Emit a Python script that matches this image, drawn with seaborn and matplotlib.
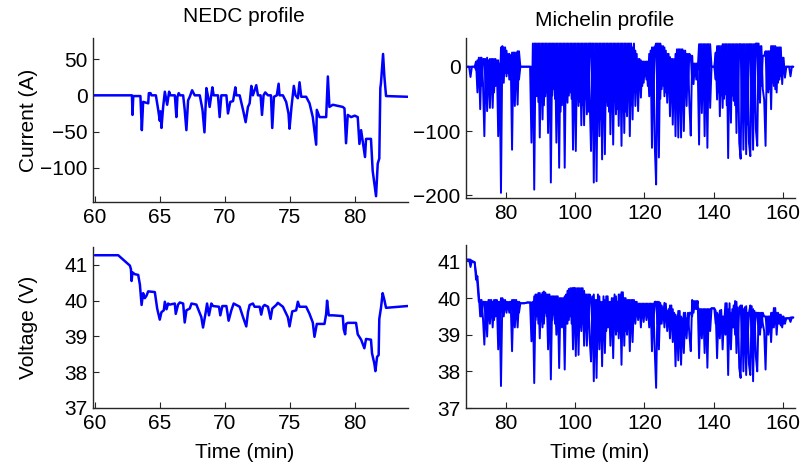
import numpy as np
import pandas as pd
import matplotlib
matplotlib.use("Agg")
import matplotlib.pyplot as plt
import seaborn as sns

sns.set_style("ticks")
plt.rcParams["font.family"] = ["Liberation Sans", "DejaVu Sans"]
plt.rcParams["font.size"] = 15
plt.rcParams["text.color"] = "black"

# =================== NEDC profile (time in min) ===================
nedc_t_cur = [59.8, 62.85, 62.89, 62.95, 63.5, 63.61, 63.71, 64.1, 64.15, 64.28, 64.35, 64.69,
              64.87, 64.99, 65.05, 65.12, 65.25, 65.38, 65.56, 65.71, 65.81, 66.15, 66.27, 66.35,
              66.45, 66.55, 66.79, 66.91, 67.04, 67.17, 67.3, 67.48, 67.68, 68.07, 68.28, 68.43,
              68.58, 68.71, 68.83, 69.04, 69.14, 69.47, 69.6, 69.73, 70.12, 70.24, 70.42, 70.63,
              70.81, 70.88, 71.14, 71.4, 71.6, 71.78, 71.91, 72.04, 72.16, 72.42, 72.55, 72.75,
              72.86, 72.98, 73.11, 73.32, 73.55, 73.65, 73.78, 74.0, 74.14, 74.21, 74.47, 74.72,
              74.9, 74.98, 75.13, 75.31, 75.44, 75.62, 75.75, 75.88, 76.26, 76.52, 76.77, 77.03,
              77.08, 77.29, 77.8, 77.93, 78.05, 78.31, 79.08, 79.21, 79.33, 79.46, 79.72, 80.0,
              80.23, 80.36, 80.49, 80.79, 80.87, 81.25, 81.38, 81.64, 81.77, 81.89, 81.97, 82.02,
              82.18, 82.28, 82.41, 84.07]
nedc_cur = [0, 0, -27, -1, -1, -48, -9, -11, 3, 3, 0, 0,
            -20, -35, -22, -45, -16, 5, -13, 5, 0, 0, -30, -2,
            3, 0, 0, -20, -48, -7, -2, 7, 0, 0, -20, -51,
            10, -2, -16, 11, 0, 0, -30, 0, 0, -25, -9, -8,
            11, 0, 0, -20, -37, -16, -11, 13, 0, 14, 0, 0,
            -27, 0, 4, 0, 0, -45, -2, 0, 16, 0, 0, -9,
            -25, -46, -16, 13, 0, -4, 18, -2, -2, -11, -30, -68,
            -20, -30, -30, 26, -16, -13, -16, -18, -66, -27, -30, -28,
            -30, -67, -48, -85, -60, -60, -104, -139, -94, -87, 10, 17,
            57, 26, -1, -2]

nedc_t_volt = [60.0, 61.79, 62.69, 62.77, 62.82, 62.89, 63.07, 63.33, 63.46, 63.59, 63.71, 63.84,
               63.97, 64.10, 64.61, 64.79, 64.99, 65.12, 65.30, 65.38, 65.51, 65.63, 65.76, 66.15,
               66.22, 66.40, 66.53, 66.79, 66.91, 67.04, 67.30, 67.43, 67.81, 68.19, 68.32, 68.53,
               68.63, 68.78, 68.96, 69.09, 69.55, 69.65, 69.81, 70.12, 70.29, 70.50, 70.68, 71.14,
               71.40, 71.65, 71.78, 71.91, 72.16, 72.29, 72.68, 72.80, 72.93, 73.06, 73.32, 73.52,
               73.65, 73.96, 74.08, 74.47, 74.85, 74.98, 75.19, 75.49, 75.62, 75.75, 76.26, 76.52,
               76.77, 76.90, 77.08, 77.29, 77.67, 77.80, 77.87, 78.00, 78.31, 79.08, 79.15, 79.26,
               79.33, 79.46, 80.10, 80.23, 80.49, 80.74, 80.87, 81.25, 81.33, 81.51, 81.59, 81.72,
               81.84, 81.89, 82.02, 82.15, 82.28, 82.41, 84.07]
nedc_volt = [41.27, 41.27, 40.98, 40.88, 40.55, 40.79, 40.74, 40.72, 40.45, 39.88, 40.21, 40.07,
             40.14, 40.26, 40.24, 39.78, 39.47, 39.68, 39.73, 39.97, 39.76, 39.92, 39.89, 39.92,
             39.63, 39.89, 39.95, 39.92, 39.39, 39.73, 39.78, 39.92, 39.89, 39.54, 39.25, 39.68,
             39.92, 39.59, 39.92, 39.85, 39.83, 39.59, 39.85, 39.85, 39.44, 39.73, 39.92, 39.83,
             39.54, 39.28, 39.68, 39.88, 39.92, 39.83, 39.83, 39.61, 39.83, 39.88, 39.83, 39.49,
             39.78, 39.88, 39.94, 39.83, 39.54, 39.28, 39.70, 39.73, 39.97, 39.83, 39.83, 39.63,
             39.39, 38.99, 39.35, 39.35, 39.35, 39.63, 40.0, 39.59, 39.59, 39.57, 39.20, 39.06,
             39.35, 39.38, 39.38, 39.06, 38.91, 38.67, 38.93, 38.91, 38.53, 38.24, 38.03, 38.43,
             38.48, 39.49, 39.80, 40.21, 40.02, 39.80, 39.85]

# =================== Michelin profile (sampled every 0.4 min from 68.6 min) ===================
# two interleaved phases of the fast-switching signal (a: read spikes, b: opposite phase)
mich_t0 = 68.6
mich_step = 0.4
mich_cur_a = [0, 0, 0, -16, 0, 0, 0, 8, -40, 14,
              -66, 14, -25, -108, 12, -69, 10, -64, 12, -64,
              12, -30, 10, -108, 5, -196, 32, -25, 30, -15,
              20, -20, 18, -129, 22, -61, 22, -59, 24, 0,
              0, 0, 0, 0, 0, 0, 0, -118, 36, -191,
              36, -46, 36, -110, 36, -82, 36, -46, 36, -103,
              36, -180, 36, -35, 36, -118, 36, -157, 36, -60,
              36, -157, 36, -56, 36, -40, 36, -129, 36, -131,
              36, -61, 36, -91, 36, -91, 36, -74, 36, -46,
              -131, 36, -180, 36, -178, 36, -108, 36, -144, 36,
              -136, 36, -61, 36, -105, 36, -121, 36, -74, 36,
              -92, 36, -123, 36, -103, 36, -77, 36, -108, 36,
              -82, 36, -61, 20, -69, 12, -48, 8, -25, 8,
              -20, 8, -46, 25, -126, 30, -121, -183, 36, -141,
              36, -35, 32, -46, 25, -56, 20, -77, 12, -90,
              12, -108, 27, -110, 27, -110, 27, -100, 25, -61,
              20, -58, -107, 17, -27, 5, -20, 5, -121, 35,
              -72, 35, -108, 35, -126, 35, -64, 0, 0, 0,
              22, -51, 32, -77, 32, -64, 35, -43, 35, -142,
              35, -87, 35, -53, 35, -103, 35, -118, -143, 35,
              -129, 35, -136, 35, -118, -139, 35, -129, 35, -97,
              -123, 36, -56, 32, -35, -51, -123, 24, -40, 24,
              -66, 32, -30, 32, -40, 30, -20, 30, -27, 14,
              -17, 0, 0, 0, -15, 0, 0]
mich_cur_b = [0, 0, 0, 0, 0, 0, 0, -5, 10, -20,
              14, -30, 12, 12, -35, 14, -30, 12, -30, 12,
              -40, 12, -20, 10, -60, 30, -20, 30, -10, 25,
              -10, 20, -15, 22, -30, 22, -25, 24, -20, 0,
              0, 0, 0, 0, 0, 0, 0, 0, -60, 36,
              -40, 36, -55, 36, -45, 36, -60, 36, -40, 36,
              -60, 36, -45, 36, -50, 36, -60, 36, -70, 36,
              -50, 36, -40, 36, -45, 36, -50, 36, -60, 36,
              -45, 36, -55, 36, -60, 36, -50, 36, -70, 36,
              36, -60, 36, -75, 36, -55, 36, -82, 36, -60,
              36, -55, 36, -70, 36, -60, 36, -50, 36, -66,
              36, -60, 36, -55, 36, -70, 36, -50, 36, -60,
              30, -40, 25, -40, 12, -35, 10, -30, 8, -15,
              8, -30, 20, -40, 30, -50, 30, 36, -60, 36,
              -50, 32, -30, 30, -40, 20, -40, 15, -40, 12,
              -50, 20, -45, 27, -60, 27, -50, 25, -40, 20,
              -30, 20, 17, -20, 5, -10, 5, -5, 35, -50,
              35, -45, 35, -60, 35, -50, 35, 0, 0, 0,
              -20, 32, -40, 32, -45, 35, -50, 35, -60, 35,
              -60, 35, -45, 35, -60, 35, -70, 35, 35, -80,
              35, -80, 35, -90, 35, 35, -85, 35, -70, 36,
              36, -50, 32, -30, 17, 17, 24, -35, 24, -35,
              32, -25, 32, -35, 30, -25, 30, -15, 14, -10,
              0, 0, 0, 0, 0, 0, 0]
mich_volt_a = [41.05, 41.05, 41.05, 40.85, 41.02, 41.0, 40.98, 40.5, 40.6, 40.1,
               39.5, 39.95, 39.45, 38.73, 39.9, 38.95, 39.95, 39.3, 39.95, 39.2,
               39.95, 39.5, 39.95, 38.6, 39.9, 37.6, 40.0, 39.5, 39.95, 39.6,
               39.9, 39.6, 39.9, 38.55, 39.95, 39.2, 39.95, 39.2, 39.9, 39.86,
               39.86, 39.86, 39.86, 39.87, 39.88, 39.88, 39.88, 38.82, 39.9, 37.68,
               40.1, 39.5, 40.14, 38.9, 40.1, 39.2, 40.18, 39.6, 40.1, 38.6,
               40.1, 37.78, 40.05, 39.55, 40.05, 39.0, 40.05, 38.09, 40.0, 39.2,
               40.0, 38.05, 40.1, 39.3, 40.25, 39.5, 40.27, 38.6, 40.28, 38.42,
               40.27, 38.45, 40.27, 39.1, 40.27, 38.7, 40.1, 38.7, 40.1, 38.9,
               38.27, 40.05, 37.73, 39.95, 37.82, 40.1, 38.6, 39.9, 38.14, 40.05,
               38.5, 40.05, 39.2, 39.9, 38.7, 40.0, 38.36, 40.1, 39.0, 39.9,
               38.9, 40.1, 38.18, 40.16, 38.7, 40.0, 39.0, 39.95, 38.55, 39.95,
               38.8, 39.95, 39.3, 39.9, 39.4, 39.85, 39.2, 39.85, 39.35, 39.85,
               39.4, 39.85, 39.2, 39.85, 38.55, 39.85, 38.55, 37.55, 39.9, 38.6,
               39.87, 39.3, 39.75, 39.2, 39.85, 39.1, 39.7, 38.9, 39.8, 38.8,
               39.6, 38.14, 39.5, 38.3, 39.65, 38.18, 39.45, 38.5, 39.6, 38.9,
               39.6, 39.0, 38.55, 39.95, 39.6, 39.92, 39.7, 39.92, 38.36, 39.7,
               38.9, 39.7, 38.5, 39.7, 38.1, 39.7, 39.1, 39.72, 39.72, 39.72,
               39.65, 38.36, 39.55, 38.9, 39.68, 38.6, 39.5, 39.0, 39.86, 37.9,
               39.86, 38.6, 39.7, 39.2, 39.92, 38.5, 39.75, 38.1, 37.82, 39.8,
               38.0, 39.75, 37.9, 39.6, 38.2, 37.9, 39.78, 37.73, 39.65, 38.4,
               38.0, 39.6, 39.0, 39.6, 39.3, 39.1, 38.05, 39.5, 39.0, 39.5,
               38.8, 39.6, 39.2, 39.73, 39.0, 39.6, 39.3, 39.55, 39.2, 39.5,
               39.3, 39.45, 39.45, 39.45, 39.35, 39.47, 39.47]
mich_volt_b = [41.05, 41.05, 41.05, 41.05, 41.0, 40.98, 40.98, 40.7, 40.4, 39.9,
               39.95, 39.5, 39.9, 39.9, 39.4, 39.9, 39.5, 39.95, 39.5, 39.9,
               39.4, 39.95, 39.6, 39.9, 39.3, 40.0, 39.6, 39.95, 39.7, 39.9,
               39.7, 39.9, 39.65, 39.95, 39.5, 39.95, 39.5, 39.9, 39.6, 39.86,
               39.86, 39.86, 39.86, 39.87, 39.88, 39.88, 39.88, 39.88, 39.3, 40.05,
               39.4, 40.1, 39.3, 40.14, 39.4, 40.15, 39.3, 40.15, 39.5, 40.1,
               39.3, 40.05, 39.4, 40.05, 39.3, 40.05, 39.4, 40.0, 39.3, 40.0,
               39.4, 40.05, 39.3, 40.2, 39.4, 40.27, 39.3, 40.28, 39.4, 40.27,
               39.3, 40.27, 39.2, 40.27, 39.3, 40.2, 39.4, 40.1, 39.2, 40.1,
               40.0, 39.2, 40.1, 39.0, 39.95, 39.2, 40.05, 39.1, 39.9, 39.3,
               39.95, 39.1, 40.05, 39.2, 39.9, 39.3, 40.0, 39.2, 40.05, 39.1,
               40.1, 39.2, 40.16, 39.3, 40.0, 39.1, 39.95, 39.3, 39.95, 39.2,
               39.95, 39.4, 39.9, 39.5, 39.85, 39.5, 39.85, 39.5, 39.85, 39.6,
               39.85, 39.5, 39.85, 39.4, 39.85, 39.3, 39.9, 39.9, 39.3, 39.9,
               39.3, 39.8, 39.5, 39.87, 39.4, 39.65, 39.3, 39.8, 39.3, 39.7,
               39.0, 39.55, 39.1, 39.65, 38.9, 39.5, 39.0, 39.6, 39.1, 39.45,
               39.2, 39.6, 39.6, 39.5, 39.92, 39.7, 39.92, 39.75, 39.7, 39.2,
               39.7, 39.2, 39.7, 39.1, 39.7, 39.2, 39.7, 39.72, 39.72, 39.72,
               39.3, 39.6, 39.2, 39.66, 39.1, 39.5, 39.2, 39.86, 39.2, 39.7,
               39.0, 39.6, 39.2, 39.8, 39.0, 39.9, 38.9, 39.7, 39.8, 38.9,
               39.7, 38.9, 39.78, 38.8, 39.6, 39.8, 38.9, 39.7, 39.0, 39.6,
               39.6, 39.1, 39.6, 39.2, 39.6, 39.5, 39.5, 39.1, 39.5, 39.1,
               39.6, 39.2, 39.73, 39.3, 39.6, 39.3, 39.55, 39.25, 39.5, 39.3,
               39.45, 39.45, 39.45, 39.45, 39.47, 39.47, 39.47]

mich_t = mich_t0 + mich_step * np.arange(len(mich_cur_a))


def two_phase(a, b):
    return pd.DataFrame({"t": np.concatenate([mich_t, mich_t]),
                         "v": np.concatenate([a, b]),
                         "phase": ["a"] * len(a) + ["b"] * len(b)})


nedc_c = pd.DataFrame({"t": nedc_t_cur, "v": nedc_cur, "phase": "a"})
nedc_v = pd.DataFrame({"t": nedc_t_volt, "v": nedc_volt, "phase": "a"})
mich_c = two_phase(mich_cur_a, mich_cur_b)
mich_v = two_phase(mich_volt_a, mich_volt_b)

# =================== Figure ===================
W, H = 805, 468
fig = plt.figure(figsize=(W / 100, H / 100), dpi=100)


def px_axes(x0, y0, x1, y1):
    return fig.add_axes([x0 / W, 1 - y1 / H, (x1 - x0) / W, (y1 - y0) / H])


ax_nc = px_axes(93, 38, 408, 202)
ax_mc = px_axes(466, 38, 795, 198)
ax_nv = px_axes(93, 247, 408, 408)
ax_mv = px_axes(466, 245, 795, 408)

blue = "#0000ff"
for ax, df, lw in [(ax_nc, nedc_c, 1.8), (ax_mc, mich_c, 1.4),
                   (ax_nv, nedc_v, 1.8), (ax_mv, mich_v, 1.4)]:
    sns.lineplot(data=df, x="t", y="v", units="phase", ax=ax, estimator=None,
                 sort=False, color=blue, linewidth=lw)
    ax.set_xlabel("")
    ax.set_ylabel("")
    sns.despine(ax=ax)
    for s in ["left", "bottom"]:
        ax.spines[s].set_color("#262626")
        ax.spines[s].set_linewidth(1.0)
    ax.tick_params(direction="in", length=4, width=0.8, labelsize=15, pad=4,
                   colors="#262626", labelcolor="black")

ax_nc.set_xlim(59.85, 84.1)
ax_nv.set_xlim(59.85, 84.1)
ax_nc.set_xticks([60, 65, 70, 75, 80])
ax_nv.set_xticks([60, 65, 70, 75, 80])
ax_nc.set_ylim(-147, 79)
ax_nc.set_yticks([-100, -50, 0, 50])
ax_nv.set_ylim(37, 41.5)
ax_nv.set_yticks([37, 38, 39, 40, 41])

ax_mc.set_xlim(68.5, 163.5)
ax_mv.set_xlim(68.5, 163.5)
ax_mc.set_xticks([80, 100, 120, 140, 160])
ax_mv.set_xticks([80, 100, 120, 140, 160])
ax_mc.set_ylim(-204, 44.6)
ax_mc.set_yticks([-200, -100, 0])
ax_mv.set_ylim(37, 41.45)
ax_mv.set_yticks([37, 38, 39, 40, 41])

# titles and labels placed like the original export
fig.text(244 / W, 1 - 17 / H, "NEDC profile", ha="center", va="center", fontsize=15)
fig.text(605 / W, 1 - 21 / H, "Michelin profile", ha="center", va="center", fontsize=15)
fig.text(29 / W, 1 - 120 / H, "Current (A)", rotation=90, ha="center", va="center", fontsize=15)
fig.text(29 / W, 1 - 327 / H, "Voltage (V)", rotation=90, ha="center", va="center", fontsize=15)
fig.text(245 / W, 1 - 453 / H, "Time (min)", ha="center", va="center", fontsize=15)
fig.text(600 / W, 1 - 453 / H, "Time (min)", ha="center", va="center", fontsize=15)

fig.savefig("out.png", dpi=100, facecolor="white")
